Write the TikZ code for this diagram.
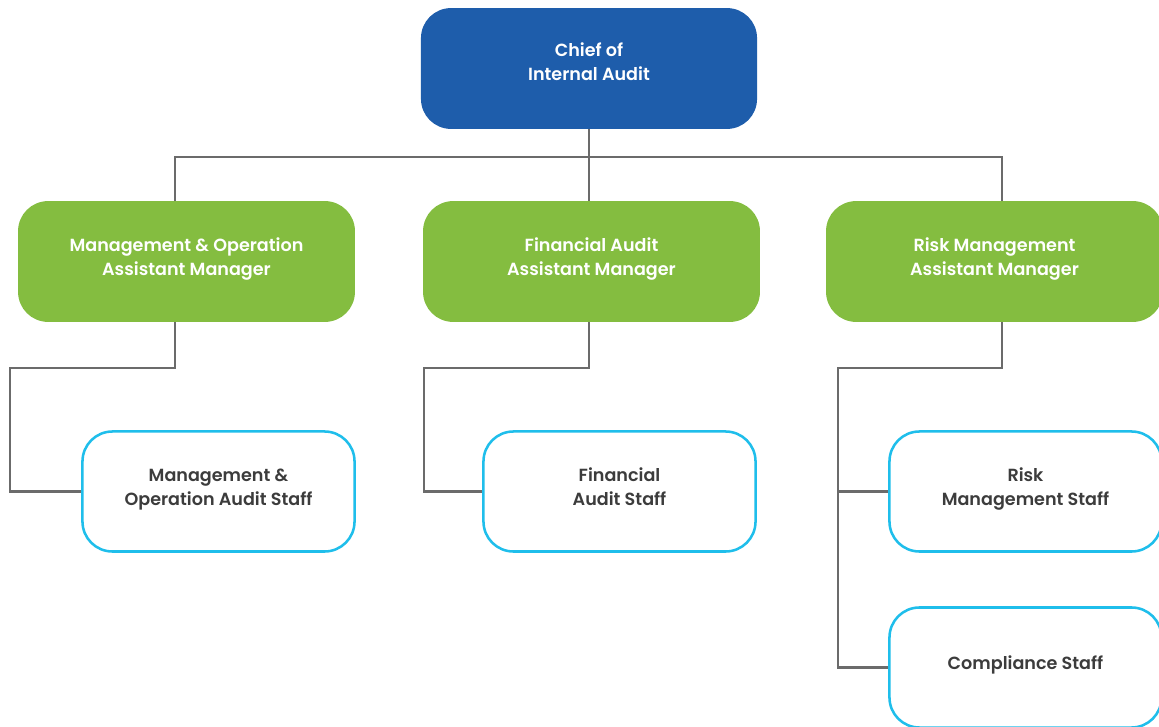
\documentclass[tikz,border=0pt]{standalone}
\usepackage{fontspec}
\setmainfont{Poppins}[BoldFont={Poppins SemiBold}]
\usetikzlibrary{positioning}

\definecolor{chiefblue}{HTML}{1E5DAB}
\definecolor{amgreen}{HTML}{84BD40}
\definecolor{staffcyan}{HTML}{1FBEEB}
\definecolor{linkgray}{HTML}{6B6B6B}
\definecolor{stafftext}{HTML}{3C3C3C}

\tikzset{
  box/.style={rectangle, rounded corners=0.75cm, align=center,
    font=\fontsize{12.5}{17}\selectfont\bfseries,
    execute at end node={\rule[-6.5pt]{0pt}{0pt}}},
  chiefbox/.style={box, fill=chiefblue, text=white,
    minimum width=8.4cm, minimum height=3.02cm,
    execute at end node={\rule[-10pt]{0pt}{0pt}}},
  ambox/.style={box, fill=amgreen, text=white,
    minimum width=8.42cm, minimum height=3.02cm},
  staffbox/.style={box, draw=staffcyan, line width=1.8pt, fill=white,
    text=stafftext, minimum width=6.8cm, minimum height=3cm},
  link/.style={draw=linkgray, line width=1.8pt}
}

\begin{document}
\begin{tikzpicture}[x=0.025cm, y=-0.025cm]
  \useasboundingbox (0,0) rectangle (1159,727);
  %%%%% boxes %%%%%
  \node[chiefbox] (chief) at (589,68.5) {Chief of\\Internal Audit};

  \node[ambox] (amLeft)  at (186.5,261.5) {Management \& Operation\\Assistant Manager};
  \node[ambox] (amMid)   at (591.5,261.5) {Financial Audit\\Assistant Manager};
  \node[ambox] (amRight) at (994.5,261.5) {Risk Management\\Assistant Manager};

  \node[staffbox] (stLeft) at (218.5,491.5) {Management \&\\Operation Audit Staff};
  \node[staffbox] (stMid)  at (619.5,491.5) {Financial\\Audit Staff};
  \node[staffbox] (stRisk) at (1025.5,491.5) {Risk\\Management Staff};
  \node[staffbox] (stComp) at (1025.5,667.5) {Compliance Staff};

  %%%%% lines %%%%%
  \coordinate (busL) at (175,157);
  \coordinate (busR) at (1002,157);
  \coordinate (elbowL) at (10,368);
  \coordinate (elbowM) at (424,368);
  \coordinate (elbowR) at (838,368);

  \draw[link] (chief.south) -- (chief.south |- amMid.north);
  \draw[link] (busL |- amLeft.north) -- (busL) -- (busR) -- (busR |- amRight.north);

  \draw[link] (amLeft.south -| busL) |- (elbowL) |- (stLeft.west);
  \draw[link] (amMid.south -| chief.south) |- (elbowM) |- (stMid.west);
  \draw[link] (amRight.south -| busR) |- (elbowR) |- (stComp.west);
  \draw[link] (elbowR |- stRisk.west) -- (stRisk.west);
\end{tikzpicture}
\end{document}
